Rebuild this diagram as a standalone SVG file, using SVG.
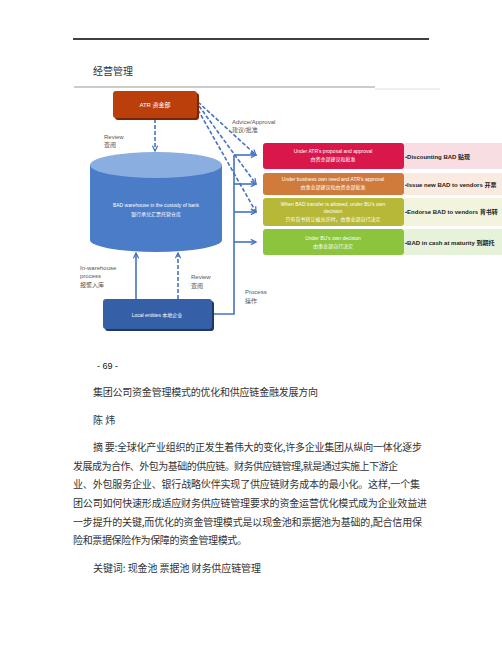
<svg xmlns="http://www.w3.org/2000/svg" width="502" height="649" viewBox="0 0 502 649">
<defs>
<style>
.t{font-family:"Liberation Sans","Noto Sans CJK SC",sans-serif;}
.body{font-family:"Noto Sans CJK SC",sans-serif;font-size:10px;fill:#333;}
.lbl{font-family:"Liberation Sans","Noto Sans CJK SC",sans-serif;font-size:6px;fill:#555;}
.bx{font-family:"Liberation Sans","Noto Sans CJK SC",sans-serif;font-size:5px;fill:#fff;text-anchor:middle;}
.side{font-family:"Liberation Sans","Noto Sans CJK SC",sans-serif;font-size:6px;font-weight:bold;fill:#222;}
.solid{stroke:#4472c4;stroke-width:1.6;fill:none;}
.dash{stroke:#4472c4;stroke-width:1.6;fill:none;stroke-dasharray:4 2;}
</style>
<marker id="ah" viewBox="0 0 8 8" refX="7" refY="4" markerWidth="7" markerHeight="7" markerUnits="userSpaceOnUse" orient="auto">
<path d="M1,1 L7,4 L1,7" fill="none" stroke="#4472c4" stroke-width="1.4"/>
</marker>
</defs>
<rect width="502" height="649" fill="#fff"/>
<line x1="73" y1="39" x2="429" y2="39" stroke="#000" stroke-width="1.3"/>
<text x="93" y="75" class="body" fill="#222">经营管理</text>
<line x1="74" y1="87" x2="375" y2="87" stroke="#999" stroke-width="1"/>
<line x1="375" y1="89" x2="440" y2="89" stroke="#ddd" stroke-width="1"/>

<g id="connectors">
<line class="dash" x1="155" y1="119" x2="155" y2="151" marker-end="url(#ah)"/>
<line class="dash" x1="198" y1="102" x2="256" y2="155" marker-end="url(#ah)"/>
<line class="dash" x1="199" y1="106" x2="256" y2="184" marker-end="url(#ah)"/>
<line class="dash" x1="198" y1="110" x2="256" y2="212" marker-end="url(#ah)"/>
<line class="solid" x1="136" y1="299" x2="136" y2="253" marker-end="url(#ah)"/>
<line class="dash" x1="178" y1="299" x2="178" y2="253" marker-end="url(#ah)"/>
<polyline class="solid" points="212,314 234,314 234,155"/>
<line class="solid" x1="234" y1="155" x2="256" y2="155" marker-end="url(#ah)"/>
<line class="solid" x1="234" y1="184" x2="256" y2="184" marker-end="url(#ah)"/>
<line class="solid" x1="234" y1="212" x2="256" y2="212" marker-end="url(#ah)"/>
<line class="solid" x1="234" y1="242" x2="256" y2="242" marker-end="url(#ah)"/>
</g>

<g id="atr">
<rect x="115" y="93" width="84" height="27" rx="3" fill="#7a2606"/>
<rect x="113" y="91" width="84" height="27" rx="3" fill="#bb3f0b"/>
<text x="155" y="107" class="t" font-size="6" fill="#fff" text-anchor="middle">ATR 资金部</text>
</g>

<g id="warehouse">
<path d="M90,165 L90,240 A66,12 0 0 0 222,240 L222,165 Z" fill="#4a7cc8"/>
<ellipse cx="156" cy="165" rx="66" ry="13" fill="#8aaee0"/>
<text x="156" y="207" class="bx" font-size="6">BAD warehouse in the custody of bank</text>
<text x="156" y="216" class="bx" font-size="6">银行承兑汇票托管仓库</text>
</g>

<g id="local">
<rect x="105" y="301" width="109" height="30" rx="3" fill="#1f3864"/>
<rect x="103" y="299" width="109" height="30" rx="3" fill="#3560a8"/>
<text x="157" y="317" class="bx" font-size="6">Local entities 本地企业</text>
</g>

<g id="labels">
<text x="104" y="139" class="lbl">Review</text>
<text x="104" y="147" class="lbl">查阅</text>
<text x="232" y="124" class="lbl">Advice/Approval</text>
<text x="232" y="132" class="lbl">建议/批准</text>
<text x="80" y="270" class="lbl">In-warehouse</text>
<text x="80" y="278" class="lbl">process</text>
<text x="80" y="287" class="lbl">报聚入库</text>
<text x="191" y="279" class="lbl">Review</text>
<text x="191" y="288" class="lbl">查阅</text>
<text x="245" y="294" class="lbl">Process</text>
<text x="245" y="303" class="lbl">操作</text>
</g>

<g id="opt1">
<rect x="404" y="143" width="98" height="26" fill="#f8dde2"/>
<rect x="263" y="143" width="141" height="26" rx="3" fill="#d9174a"/>
<text x="333" y="153" class="bx">Under ATR's proposal and approval</text>
<text x="333" y="161" class="bx">由资金部建议和批准</text>
<text x="405" y="159" class="side">•Discounting BAD 贴现</text>
</g>
<g id="opt2">
<rect x="404" y="173" width="98" height="22" fill="#fbeadf"/>
<rect x="263" y="173" width="141" height="22" rx="3" fill="#d07b3c"/>
<text x="333" y="181" class="bx">Under business own need and ATR's approval</text>
<text x="333" y="189" class="bx">由事业部建议和由资金部批准</text>
<text x="405" y="187" class="side">•Issue new BAD to vendors 开票</text>
</g>
<g id="opt3">
<rect x="404" y="198" width="98" height="28" fill="#f3f4dd"/>
<rect x="263" y="198" width="141" height="28" rx="3" fill="#b8b838"/>
<text x="333" y="206" class="bx">When BAD transfer is allowed, under BU's own</text>
<text x="333" y="213" class="bx">decision</text>
<text x="333" y="221" class="bx">只有背书转让被允许时，由事业部自行决定</text>
<text x="405" y="214" class="side">•Endorse BAD to vendors 背书转</text>
</g>
<g id="opt4">
<rect x="404" y="229" width="98" height="26" fill="#e7f2da"/>
<rect x="263" y="229" width="141" height="26" rx="3" fill="#8cc43e"/>
<text x="333" y="240" class="bx">Under BU's own decision</text>
<text x="333" y="248" class="bx">由事业部自行决定</text>
<text x="405" y="245" class="side">•BAD in cash at maturity 到期托</text>
</g>

<text x="97" y="369" class="t" font-size="9" fill="#111">- 69 -</text>
<text x="93" y="396" class="body" textLength="225">集团公司资金管理模式的优化和供应链金融发展方向</text>
<text x="93" y="424" class="body">陈 炜</text>
<text x="93" y="451" class="body" textLength="329">摘 要:全球化产业组织的正发生着伟大的变化,许多企业集团从纵向一体化逐步</text>
<text x="73" y="470" class="body" textLength="325">发展成为合作、外包为基础的供应链。财务供应链管理,就是通过实施上下游企</text>
<text x="73" y="488" class="body" textLength="347">业、外包服务企业、银行战略伙伴实现了供应链财务成本的最小化。这样,一个集</text>
<text x="73" y="507" class="body" textLength="354">团公司如何快速形成适应财务供应链管理要求的资金运营优化模式成为企业效益进</text>
<text x="73" y="526" class="body" textLength="349">一步提升的关键,而优化的资金管理模式是以现金池和票据池为基础的,配合信用保</text>
<text x="73" y="544" class="body" textLength="174">险和票据保险作为保障的资金管理模式。</text>
<text x="93" y="572" class="body" textLength="168">关键词: 现金池 票据池 财务供应链管理</text>
</svg>
